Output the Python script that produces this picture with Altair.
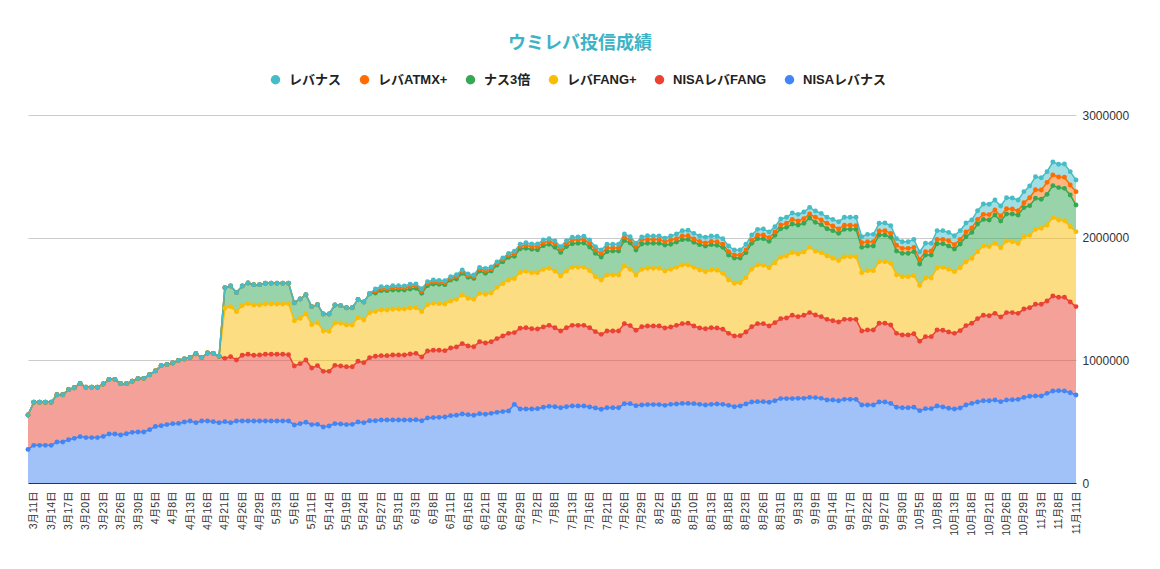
import json
import altair as alt
import pandas as pd

# x-axis tick labels (one every third data point, starting at point 1)
tick_labels = ["3月11日","3月14日","3月17日","3月20日","3月23日","3月26日","3月30日",
               "4月5日","4月8日","4月13日","4月16日","4月21日","4月26日","4月29日",
               "5月3日","5月6日","5月11日","5月14日","5月19日","5月24日","5月27日","5月31日",
               "6月3日","6月8日","6月11日","6月16日","6月21日","6月24日","6月29日",
               "7月2日","7月8日","7月13日","7月16日","7月21日","7月26日","7月29日",
               "8月2日","8月5日","8月10日","8月13日","8月18日","8月23日","8月26日","8月31日",
               "9月3日","9月9日","9月14日","9月17日","9月22日","9月27日","9月30日",
               "10月5日","10月8日","10月13日","10月18日","10月21日","10月26日","10月29日",
               "11月3日","11月8日","11月11日"]

# series values in thousands of yen (千円), one per data point (182 points)
nisa_levnas_k = [274,307,307,307,307,334,334,353,364,378,370,370,370,380,399,399,391,402,413,416,
                 416,435,460,467,476,484,486,497,505,492,505,505,500,492,500,492,505,505,505,505,
                 505,505,505,505,505,505,473,484,495,476,478,457,465,484,481,476,478,497,492,508,
                 508,514,514,514,514,514,514,516,508,530,533,535,538,549,552,563,557,552,565,560,
                 568,576,582,587,641,603,603,603,606,617,625,622,614,622,628,628,628,620,611,601,
                 614,614,614,647,647,630,636,639,639,639,633,641,644,649,649,647,641,636,641,644,
                 641,633,622,628,644,660,663,663,658,671,688,688,688,690,690,698,696,690,677,677,
                 671,682,682,682,636,636,636,660,660,649,617,614,614,617,590,606,606,628,620,609,
                 603,611,636,649,660,671,671,677,663,677,679,682,698,707,709,709,731,750,753,750,
                 736,717]
nisa_levfang_k = [280,351,351,351,351,386,386,408,413,434,410,410,410,427,446,446,419,408,416,435,
                  437,448,454,490,491,494,514,514,519,562,517,555,557,541,516,538,498,536,544,536,
                  538,544,544,544,544,541,481,489,508,461,479,453,445,475,473,472,470,495,489,514,
                  525,524,524,529,529,529,538,541,519,546,549,547,541,552,557,573,560,559,587,581,
                  584,601,616,633,585,658,663,655,649,655,660,644,625,644,657,657,657,646,623,611,
                  625,625,625,652,636,615,638,641,641,641,631,631,641,650,653,633,623,622,625,620,
                  612,587,576,573,587,614,636,636,622,636,652,657,679,666,677,691,674,666,657,646,
                  642,652,652,652,603,611,611,642,642,639,603,593,593,600,565,587,587,619,625,622,
                  617,631,647,653,680,696,693,706,690,712,710,701,720,722,748,748,753,774,761,764,
                  740,721]
levfang_k = [0,0,0,0,0,0,0,0,0,0,0,0,0,0,0,0,0,0,0,0,
             0,0,0,0,0,0,0,0,0,0,0,0,0,0,408,408,394,405,413,410,
             408,410,410,410,410,416,369,369,375,354,350,329,326,345,348,340,340,356,348,367,
             366,372,372,373,375,375,375,372,370,378,383,380,380,383,388,397,388,386,394,397,
             397,418,427,435,440,456,460,457,460,470,465,462,449,462,473,473,473,465,448,443,
             457,457,457,470,459,451,468,470,470,470,464,470,473,478,475,478,472,465,470,470,
             456,435,430,432,443,471,478,476,475,489,500,506,511,511,516,532,519,522,517,509,
             500,511,511,511,476,484,484,502,502,503,478,475,475,473,456,478,478,506,513,511,
             503,513,521,530,546,565,563,571,565,584,578,571,590,590,611,619,619,639,630,625,
             614,611]
nas3_k = [0,0,0,0,0,0,0,0,0,0,0,0,0,0,0,0,0,0,0,0,
          0,0,0,0,0,0,0,0,0,0,0,0,0,0,168,168,157,160,168,166,
          166,169,169,169,169,166,147,158,157,147,147,139,142,147,144,141,141,149,147,154,
          150,158,158,157,155,155,155,158,149,155,157,158,158,171,166,176,172,171,182,171,
          179,182,179,185,182,193,187,190,187,193,196,193,192,199,193,196,199,193,190,187,
          190,195,195,207,215,203,206,204,204,204,212,204,207,207,209,204,207,209,207,204,
          212,204,206,201,204,209,215,217,215,223,233,233,233,236,234,239,236,228,222,225,
          222,223,223,223,206,201,201,218,218,212,193,190,190,196,174,188,188,198,193,190,
          185,193,204,211,225,217,217,231,218,220,226,231,237,242,253,237,250,261,264,263,
          258,217]
levatmx_k = [0,0,0,0,0,0,0,0,0,0,0,0,0,0,0,0,0,0,0,0,
             0,0,0,0,0,0,0,0,0,0,0,0,0,0,0,0,0,0,0,0,
             0,0,0,0,0,0,0,0,0,0,0,0,0,0,0,0,0,0,0,0,
             16,16,16,19,19,17,19,19,19,16,17,16,16,13,19,14,13,14,17,22,
             17,14,17,16,21,19,25,22,25,24,24,30,25,24,30,30,29,30,27,28,
             30,25,25,27,24,28,36,32,32,32,27,35,27,30,30,27,27,25,27,29,
             25,27,25,25,21,24,30,30,30,27,30,33,38,33,38,33,41,38,44,38,
             36,33,33,30,38,35,35,32,35,32,47,41,41,35,38,27,32,35,35,44,
             35,38,38,36,38,41,44,41,41,43,41,35,40,65,70,76,98,87,87,90,
             81,109]
levnas_k = [0,0,0,0,0,0,0,0,0,0,0,0,0,0,0,0,0,0,0,0,
            0,0,0,0,0,0,0,0,0,0,0,0,0,0,0,0,0,0,0,0,
            0,0,0,0,0,0,0,0,0,0,0,0,0,0,0,0,0,0,0,0,
            17,17,14,17,17,16,19,16,19,16,16,16,16,14,16,13,14,14,13,19,
            16,11,13,16,20,17,21,21,21,22,22,22,22,25,22,21,25,27,28,29,
            30,30,30,27,27,27,21,30,28,28,28,33,38,43,44,46,44,46,44,44,
            46,46,40,40,47,44,46,49,46,44,49,49,52,54,54,54,51,54,49,54,
            59,65,65,68,49,60,60,63,63,63,54,54,54,65,60,68,63,71,71,67,
            73,71,74,65,71,84,84,81,81,90,89,87,90,95,106,100,87,106,103,109,
            109,95]

# stacking order: first name is at the bottom
series_names = ["NISAレバナス", "NISAレバFANG", "レバFANG+", "ナス3倍", "レバATMX+", "レバナス"]
series_values = [nisa_levnas_k, nisa_levfang_k, levfang_k, nas3_k, levatmx_k, levnas_k]

legend_order = ["レバナス", "レバATMX+", "ナス3倍", "レバFANG+", "NISAレバFANG", "NISAレバナス"]
legend_colors = ["#46bdc6", "#ff6d01", "#34a853", "#fbbc04", "#ea4335", "#4285f4"]

rows = []
for order_no, (name, vals) in enumerate(zip(series_names, series_values)):
    for i, v in enumerate(vals):
        rows.append({"idx": i, "series": name, "value": v * 1000, "ord": order_no})
df = pd.DataFrame(rows)

FONT = "Liberation Sans, Noto Sans CJK JP, sans-serif"

tick_positions = [1 + 3 * k for k in range(len(tick_labels))]
label_expr = json.dumps(tick_labels, ensure_ascii=False) + "[(datum.value - 1) / 3]"

x_enc = alt.X(
    "idx:Q",
    scale=alt.Scale(domain=[0, len(nisa_levnas_k) - 1], nice=False, zero=False),
    axis=alt.Axis(values=tick_positions, labelExpr=label_expr, labelAngle=270,
                  labelAlign="right", labelBaseline="middle", ticks=False, grid=False,
                  domain=True, domainColor="#333333", domainWidth=1, labelPadding=8,
                  labelFontSize=10.5, labelColor="#333333", labelFont=FONT,
                  labelOverlap=False, title=None),
)
y_enc = alt.Y(
    "y1:Q",
    stack=None,
    scale=alt.Scale(domain=[0, 3000000], nice=False),
    axis=alt.Axis(orient="right", values=[0, 1000000, 2000000, 3000000], format="d",
                  grid=True, gridColor="#cccccc", domain=False, ticks=False,
                  labelPadding=6, labelFontSize=12, labelColor="#333333",
                  labelFont=FONT, title=None),
)
color_enc = alt.Color(
    "series:N",
    scale=alt.Scale(domain=legend_order, range=legend_colors),
    legend=alt.Legend(orient="none", legendX=241, legendY=-42, direction="horizontal",
                      title=None, symbolType="circle", symbolSize=90, symbolOpacity=1,
                      symbolStrokeWidth=0, labelFontSize=13, labelFontWeight="bold",
                      labelColor="#222222", labelFont=FONT, labelOffset=7,
                      columnPadding=16, padding=0),
)

base = alt.Chart(df).transform_stack(
    stack="value", groupby=["idx"], as_=["y0", "y1"],
    sort=[alt.SortField(field="ord", order="ascending")],
)

area = base.mark_area(opacity=0.5).encode(x=x_enc, y=y_enc, y2="y0:Q", color=color_enc)
line = base.mark_line(strokeWidth=1.5).encode(x=x_enc, y=y_enc, color=color_enc)
points = base.mark_circle(size=24, opacity=1).encode(
    x=x_enc, y=y_enc, color=color_enc, order=alt.Order("ord:Q")
)

chart = alt.layer(area, line, points).properties(
    width=1048,
    height=368,
    autosize=alt.AutoSizeParams(type="none"),
    padding={"left": 20, "top": 107, "right": 70, "bottom": 70},
    background="white",
    title=alt.TitleParams("ウミレバ投信成績", fontSize=18, fontWeight="bold",
                          color="#3fb3c6", anchor="middle", dx=28, offset=20,
                          frame="group", font=FONT),
).configure_view(stroke=None)

chart.save("out.html", embed_options={"renderer": "svg", "actions": False})
